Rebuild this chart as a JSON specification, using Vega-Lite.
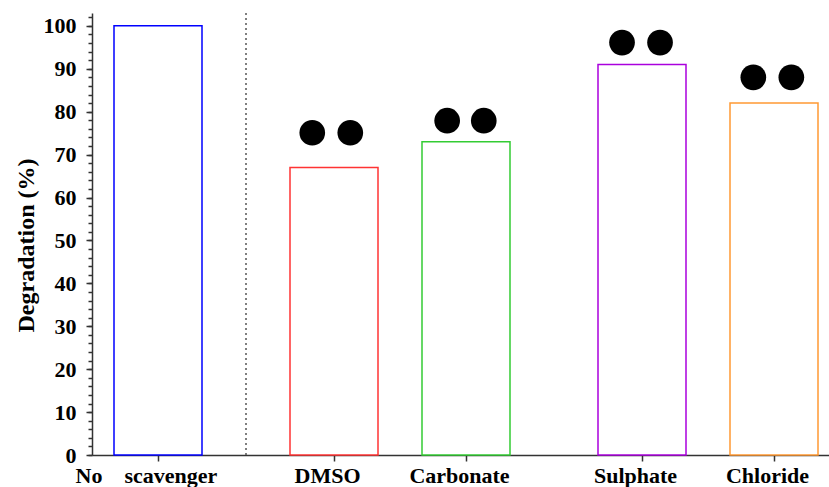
{
  "$schema": "https://vega.github.io/schema/vega-lite/v6.json",
  "autosize": "none",
  "width": 737,
  "height": 442,
  "padding": {"left": 92, "top": 13, "right": 0, "bottom": 32},
  "background": "white",
  "view": {"stroke": null},
  "config": {
    "axis": {"grid": false}
  },
  "datasets": {
    "bars": [
      {"name": "No scavenger", "pos": 0, "value": 100},
      {"name": "DMSO", "pos": 2, "value": 67},
      {"name": "Carbonate", "pos": 3.5, "value": 73},
      {"name": "Sulphate", "pos": 5.5, "value": 91},
      {"name": "Chloride", "pos": 7, "value": 82}
    ],
    "marks": [
      {"group": "DMSO", "x": 1.753, "y": 75.1},
      {"group": "DMSO", "x": 2.185, "y": 75.1},
      {"group": "Carbonate", "x": 3.286, "y": 77.9},
      {"group": "Carbonate", "x": 3.702, "y": 77.9},
      {"group": "Sulphate", "x": 5.273, "y": 96.1},
      {"group": "Sulphate", "x": 5.705, "y": 96.1},
      {"group": "Chloride", "x": 6.765, "y": 88.0},
      {"group": "Chloride", "x": 7.197, "y": 88.0}
    ],
    "divider": [
      {"x": 1, "y0": 0, "y1": 103}
    ]
  },
  "resolve": {"axis": {"x": "independent", "y": "independent"}},
  "layer": [
    {
      "data": {"name": "bars"},
      "mark": {"type": "bar", "size": 88, "fill": "white", "strokeWidth": 1.5},
      "encoding": {
        "x": {
          "field": "pos", "type": "quantitative",
          "scale": {"domain": [-0.75, 7.625], "nice": false, "zero": false, "padding": 0},
          "axis": {
            "orient": "bottom",
            "values": [0, 2, 3.5, 5.5, 7],
            "labelExpr": "datum.value == 0 ? 'No\u00a0\u00a0\u00a0\u00a0scavenger' : datum.value == 2 ? 'DMSO' : datum.value == 3.5 ? 'Carbonate' : datum.value == 5.5 ? 'Sulphate' : 'Chloride'",
            "title": null,
            "tickSize": 6,
            "tickColor": "#333",
            "tickWidth": 1.5,
            "domainColor": "#333",
            "domainWidth": 1.5,
            "labelFont": "Liberation Serif",
            "labelFontWeight": "bold",
            "labelFontSize": 22,
            "labelColor": "black",
            "labelPadding": 4,
            "labelAlign": {"condition": {"test": "datum.value == 0", "value": "left"}, "value": "center"},
            "labelOffset": {"condition": {"test": "datum.value == 0", "value": -83}, "value": -7},
            "labelFlush": false,
            "labelOverlap": false
          }
        },
        "y": {
          "field": "value", "type": "quantitative",
          "scale": {"domain": [0, 103], "nice": false, "padding": 0},
          "axis": {
            "orient": "left",
            "values": [0, 10, 20, 30, 40, 50, 60, 70, 80, 90, 100],
            "tickSize": 6,
            "tickColor": "#333",
            "tickWidth": 1.5,
            "domainColor": "#333",
            "domainWidth": 1.5,
            "labelFont": "Liberation Serif",
            "labelFontWeight": "bold",
            "labelFontSize": 22,
            "labelColor": "black",
            "labelPadding": 10,
            "title": "Degradation (%)",
            "titleFont": "Liberation Serif",
            "titleFontWeight": "bold",
            "titleFontSize": 24,
            "titleColor": "black",
            "titleX": -59,
            "titleY": 232,
            "titleAngle": 270,
            "titleAlign": "center",
            "titleBaseline": "alphabetic"
          }
        },
        "stroke": {
          "field": "name", "type": "nominal",
          "scale": {
            "domain": ["No scavenger", "DMSO", "Carbonate", "Sulphate", "Chloride"],
            "range": ["#0000ff", "#ff3333", "#33cc33", "#aa00dd", "#ff9933"]
          },
          "legend": null
        }
      }
    },
    {
      "data": {"name": "divider"},
      "mark": {"type": "rule", "color": "#555", "strokeWidth": 1.5, "strokeDash": [2, 3]},
      "encoding": {
        "x": {"field": "x", "type": "quantitative", "axis": null},
        "y": {"field": "y0", "type": "quantitative", "axis": null},
        "y2": {"field": "y1"}
      }
    },
    {
      "mark": {"type": "rule", "color": "#333", "strokeWidth": 1.5},
      "encoding": {
        "y": {
          "datum": 103, "type": "quantitative",
          "axis": {
            "orient": "left",
            "values": [0, 2, 4, 6, 8, 10, 12, 14, 16, 18, 20, 22, 24, 26, 28, 30, 32, 34, 36, 38, 40, 42, 44, 46, 48, 50, 52, 54, 56, 58, 60, 62, 64, 66, 68, 70, 72, 74, 76, 78, 80, 82, 84, 86, 88, 90, 92, 94, 96, 98, 100, 102],
            "labels": false,
            "domain": false,
            "title": null,
            "tickSize": 4,
            "tickColor": "#333",
            "tickWidth": 1.5
          }
        }
      }
    },
    {
      "data": {"name": "marks"},
      "mark": {"type": "point", "shape": "circle", "filled": true, "color": "black", "opacity": 1, "size": 660},
      "encoding": {
        "x": {"field": "x", "type": "quantitative", "axis": null},
        "y": {"field": "y", "type": "quantitative", "axis": null}
      }
    }
  ]
}
